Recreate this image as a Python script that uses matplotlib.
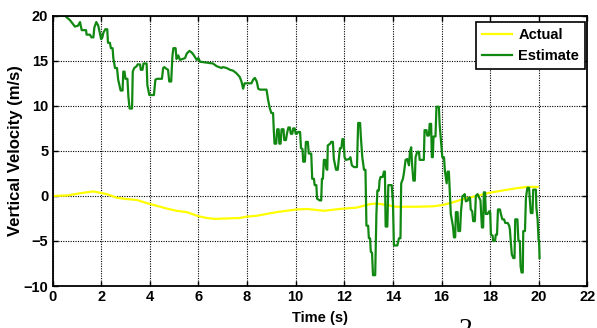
# vertical velocity : actual vs estimate

import numpy as np
import matplotlib.pyplot as plt

plt.rc('font', family='Liberation Sans', weight='bold')

# actual (yellow) - smooth curve
actual_t = [0.0, 0.6, 1.14, 1.68, 1.96, 2.23, 2.64, 3.05, 3.47, 3.88, 4.29, 4.7, 5.1, 5.52,
            6.0, 6.34, 6.68, 7.16, 7.7, 7.98, 8.4, 8.8, 9.21, 9.63, 10.04, 10.48, 11.16,
            11.8, 12.5, 13.07, 13.34, 13.75, 14.1, 14.98, 15.66, 16.06, 16.48, 16.89,
            17.44, 17.97, 18.5, 19.07, 19.5, 19.95]
actual_v = [0.0, 0.05, 0.3, 0.5, 0.35, 0.2, -0.2, -0.35, -0.45, -0.8, -1.1, -1.4, -1.65, -1.8,
            -2.25, -2.45, -2.55, -2.5, -2.45, -2.3, -2.2, -2.0, -1.8, -1.65, -1.5, -1.45, -1.65,
            -1.45, -1.3, -0.9, -0.85, -1.0, -1.2, -1.2, -1.15, -1.0, -0.7, -0.35,
            0.0, 0.35, 0.6, 0.85, 1.0, 1.0]

# estimate (green) - stepped signal
est_t = [0.0, 0.51, 0.72, 0.92, 1.05, 1.13, 1.2, 1.38, 1.4, 1.54, 1.6, 1.68, 1.72, 1.80, 1.88,
         1.95, 2.0, 2.05, 2.09, 2.17, 2.25, 2.28, 2.36, 2.4, 2.47, 2.5, 2.57, 2.65, 2.7, 2.8,
         2.88, 2.91, 2.96, 3.0, 3.08, 3.12, 3.17, 3.27, 3.3, 3.36, 3.46, 3.5, 3.6, 3.63, 3.7,
         3.74, 3.87, 3.9, 3.98, 4.17, 4.23, 4.3, 4.5, 4.55, 4.6, 4.69, 4.75, 4.8, 4.88, 4.93,
         4.97, 5.06, 5.1, 5.17, 5.24, 5.45, 5.52, 5.63, 5.73, 5.79, 5.93, 6.0, 6.06, 6.6, 6.75,
         6.95, 7.0, 7.16, 7.3, 7.43, 7.57, 7.7, 7.77, 7.84, 7.9, 8.18, 8.25, 8.32, 8.4, 8.46,
         8.53, 8.8, 8.87, 8.94, 9.0, 9.07, 9.1, 9.13, 9.2, 9.24, 9.3, 9.33, 9.38, 9.42, 9.5,
         9.53, 9.6, 9.64, 9.7, 9.76, 9.8, 9.86, 9.9, 9.96, 10.0, 10.05, 10.1, 10.18, 10.22,
         10.28, 10.31, 10.38, 10.42, 10.5, 10.54, 10.64, 10.68, 10.75, 10.78, 10.85, 10.88,
         10.99, 11.05, 11.08, 11.12, 11.16, 11.22, 11.26, 11.3, 11.32, 11.42, 11.46, 11.53,
         11.57, 11.66, 11.73, 11.77, 11.82, 11.88, 11.92, 11.97, 12.01, 12.07, 12.2, 12.25,
         12.31, 12.4, 12.52, 12.57, 12.65, 12.68, 12.74, 12.81, 12.87, 12.91, 12.98, 13.01,
         13.06, 13.09, 13.14, 13.18, 13.27, 13.32, 13.36, 13.42, 13.45, 13.49, 13.58, 13.63,
         13.67, 13.7, 13.77, 13.81, 13.95, 14.0, 14.04, 14.18, 14.25, 14.31, 14.34, 14.41,
         14.45, 14.52, 14.59, 14.66, 14.7, 14.75, 14.79, 14.84, 14.9, 14.93, 15.0, 15.07,
         15.1, 15.27, 15.3, 15.38, 15.41, 15.48, 15.51, 15.57, 15.6, 15.64, 15.67, 15.75,
         15.79, 15.89, 15.92, 15.96, 16.03, 16.1, 16.14, 16.21, 16.25, 16.3, 16.34, 16.38,
         16.47, 16.51, 16.56, 16.59, 16.66, 16.69, 16.76, 16.8, 16.86, 16.9, 16.95, 17.0,
         17.08, 17.11, 17.17, 17.2, 17.26, 17.3, 17.37, 17.41, 17.48, 17.55, 17.6, 17.62,
         17.66, 17.71, 17.74, 17.79, 17.82, 17.89, 17.96, 18.0, 18.03, 18.1, 18.12, 18.2,
         18.23, 18.28, 18.32, 18.4, 18.44, 18.5, 18.57, 18.62, 18.72, 18.78, 18.81, 18.85,
         18.89, 18.95, 19.0, 19.03, 19.12, 19.16, 19.22, 19.25, 19.29, 19.34, 19.36, 19.43,
         19.45, 19.47, 19.53, 19.6, 19.63, 19.67, 19.74, 19.77, 19.88, 19.9, 19.95, 19.99,
         20.01, 20.03]
est_v = [20.0, 20.0, 19.5, 18.8, 18.9, 19.3, 18.4, 18.4, 17.9, 17.9, 17.6, 17.6, 18.7, 19.3, 18.9,
         18.0, 17.4, 17.6, 18.1, 18.5, 18.5, 17.0, 17.0, 16.4, 16.4, 15.3, 14.2, 14.2, 12.9, 11.7,
         11.7, 13.8, 13.8, 13.0, 13.0, 11.0, 9.7, 9.7, 13.8, 14.2, 14.4, 14.6, 14.6, 14.0, 14.0,
         14.7, 14.7, 12.3, 11.2, 11.2, 12.9, 13.0, 13.0, 14.2, 14.3, 14.1, 14.0, 12.7, 12.7, 15.5,
         16.4, 16.4, 15.2, 15.6, 15.1, 15.3, 15.8, 16.1, 15.9, 15.7, 15.1, 15.3, 14.9, 14.7, 14.4,
         14.2, 14.3, 14.2, 14.0, 13.9, 13.6, 13.2, 12.7, 11.9, 12.5, 12.5, 12.9, 13.1, 12.7, 11.9,
         11.8, 11.8, 10.6, 9.7, 9.2, 9.2, 7.3, 5.8, 5.8, 7.4, 7.4, 5.8, 5.8, 7.4, 7.4,
         6.2, 6.2, 6.9, 7.6, 7.6, 6.9, 6.9, 7.5, 7.5, 6.9, 6.9, 7.1, 7.1, 5.3,
         5.2, 3.8, 3.8, 6.0, 6.0, 4.7, 4.7, 1.9, 1.9, 1.2, 1.2, -0.3,
         -0.5, -0.5, 1.9, 1.9, 4.0, 4.0, 3.0, 2.9, 5.6, 5.8, 6.0, 6.0,
         4.1, 2.9, 2.9, 4.0, 5.3, 5.3, 6.3, 6.3, 4.3, 4.0, 4.1, 4.3,
         3.4, 3.2, 3.2, 8.1, 8.1, 6.6, 4.3, 2.9, 2.9, -3.3, -3.3, -4.7,
         -4.7, -6.2, -6.3, -8.8, -8.8, -2.0, 0.6, 0.6, 1.7, 2.1, 2.1, 2.7,
         2.7, -3.4, -3.4, 1.2, 1.2, -0.7, -5.5, -5.5, -4.7, -4.7, 1.4, 1.9,
         2.5, 4.0, 4.1, 3.4, 4.9, 5.4, 3.4, 1.7, 1.7, 4.3, 4.9, 4.9,
         4.0, 4.0, 7.3, 7.3, 6.7, 6.7, 8.0, 8.0, 4.3, 4.3, 6.6, 6.6,
         9.9, 9.9, 8.0, 6.6, 4.3, 4.3, 2.7, 1.4, 2.7, 2.7, 0.3, -2.0,
         -3.4, -4.6, -4.6, -1.8, -1.8, -3.9, -3.9, -1.7, 0.0, 0.0, 0.2, -0.6,
         -0.5, -0.2, -0.2, -1.5, -1.7, -2.8, -2.8, 0.0, 0.2, -0.2, -0.5, -1.5,
         -3.5, -3.5, 0.4, 0.4, -2.0, -2.0, -1.7, -1.8, -4.3, -4.4, -5.0, -5.0,
         -4.3, -4.3, -1.5, -1.5, -2.0, -2.6, -2.6, -3.0, -3.0, -3.3, -3.7, -5.2,
         -6.5, -6.9, -6.9, -2.6, -2.6, -5.0, -5.0, -7.8, -8.5, -8.5, -3.9, -3.9,
         -1.9, -0.2, 0.9, 0.9, -0.4, -1.9, -1.9, 0.7, 0.7, -1.3, -2.6, -4.9,
         -4.9, -6.9]

x_ticks = list(range(0, 23, 2))
y_ticks = list(range(-10, 21, 5))


def main():
    fig = plt.figure(figsize=(5.97, 3.28), dpi=100)
    ax = fig.add_axes([0.088, 0.128, 0.896, 0.824])

    ax.plot(actual_t, actual_v, color='#ffff00', linewidth=1.6, label='Actual')
    ax.plot(est_t, est_v, color='#118811', linewidth=1.6, label='Estimate')

    ax.set_xlim(0, 22)
    ax.set_ylim(-10, 20)
    ax.set_xticks(x_ticks)
    ax.set_yticks(y_ticks)
    ax.tick_params(direction='in', top=True, right=True, labelsize=10.5,
                   length=3.5, width=1, pad=3)
    for s in ax.spines.values():
        s.set_linewidth(1.3)

    # matlab style dotted grid
    ax.grid(True, linestyle=(0, (1, 1.2)), color='black', linewidth=0.8)

    ax.set_xlabel('Time (s)', fontsize=10.5, fontweight='bold', labelpad=5)
    ax.set_ylabel('Vertical Velocity (m/s)', fontsize=12, fontweight='bold')
    ax.yaxis.set_label_coords(-0.056, 0.5)

    leg = ax.legend(loc='upper right', bbox_to_anchor=(0.9953, 0.977), borderaxespad=0,
                    fontsize=10.5, fancybox=False, framealpha=1, edgecolor='black',
                    handlelength=2.1, handletextpad=0.4, borderpad=0.4, labelspacing=0.5)
    leg.get_frame().set_linewidth(1.2)

    # cut off glyph under the chart
    fig.text(466 / 597, 0.03, '2', fontsize=20, family='Liberation Serif',
             fontweight='normal', ha='center', va='top')

    plt.savefig('out.png', dpi=100)


if __name__ == '__main__':
    main()
